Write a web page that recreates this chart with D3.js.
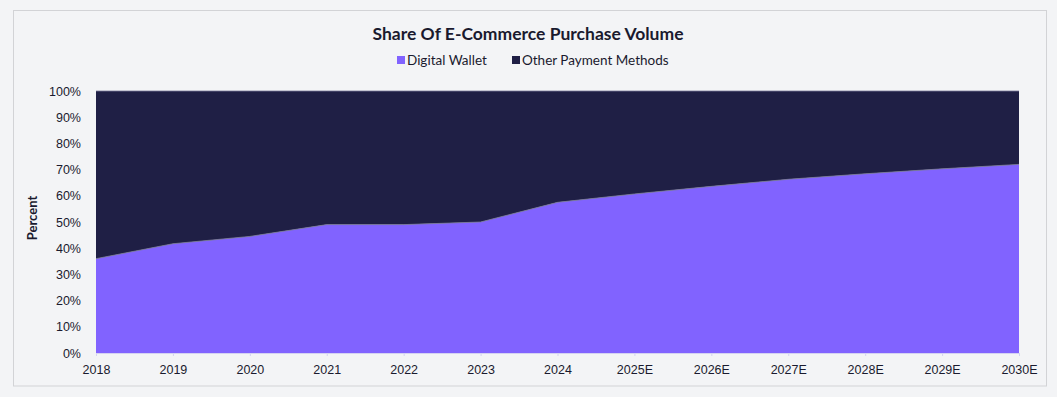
<!DOCTYPE html>
<html lang="en">
<head>
    <meta charset="UTF-8">
    <title>Share Of E-Commerce Purchase Volume</title>
    <script src="https://d3js.org/d3.v7.min.js"></script>
    <style>
        body { margin: 0; background: #f3f4f6; font-family: Lato, "Noto Sans", sans-serif; }
        #chart { width: 1057px; height: 397px; }
    </style>
</head>
<body>
    <div id="chart"></div>
    <script>
        const years = ["2018", "2019", "2020", "2021", "2022", "2023", "2024",
                       "2025E", "2026E", "2027E", "2028E", "2029E", "2030E"];
        const digitalWallet = [36, 41.7, 44.5, 49, 49, 50, 57.5, 60.7, 63.6, 66.3, 68.4, 70.3, 72];
        const otherMethods = [64, 58.3, 55.5, 51, 51, 50, 42.5, 39.3, 36.4, 33.7, 31.6, 29.7, 28];
        const seriesNames = ["Digital Wallet", "Other Payment Methods"];
        const colors = ["#8163ff", "#1f1f45"];

        const W = 1057, H = 397;
        const m = { left: 96, right: 38, top: 91, bottom: 44 };

        const svg = d3.select("#chart").append("svg")
            .attr("width", W)
            .attr("height", H);

        // outer frame
        svg.append("rect")
            .attr("x", 13.5).attr("y", 10.5)
            .attr("width", 1033).attr("height", 375.5)
            .attr("fill", "#f3f4f6")
            .attr("stroke", "#d2d3d6");

        const rows = years.map((y, i) => ({ year: y, dw: digitalWallet[i], other: otherMethods[i] }));
        const stacked = d3.stack().keys(["dw", "other"])(rows);

        const x = d3.scalePoint().domain(years).range([m.left, W - m.right]);
        const y = d3.scaleLinear().domain([0, 100]).range([H - m.bottom, m.top]);

        const area = d3.area()
            .x(d => x(d.data.year))
            .y0(d => y(d[0]))
            .y1(d => y(d[1]));

        svg.selectAll("path.layer")
            .data(stacked)
            .join("path")
            .attr("class", "layer")
            .attr("fill", (d, i) => colors[i])
            .attr("d", area);

        // thin light edge on top of each layer
        const topLine = d3.line().x(d => x(d.data.year)).y(d => y(d[1]));
        svg.selectAll("path.edge")
            .data(stacked)
            .join("path")
            .attr("class", "edge")
            .attr("fill", "none")
            .attr("stroke", "#7a7a9a")
            .attr("stroke-width", 0.8)
            .attr("d", topLine);

        // x axis
        const xAxis = svg.append("g")
            .attr("transform", `translate(0, ${H - m.bottom})`)
            .call(d3.axisBottom(x).tickSize(3).tickPadding(9));
        xAxis.select(".domain").attr("stroke", "#d4d2f2");
        xAxis.selectAll(".tick line").attr("stroke", "#d4d2f2");
        xAxis.selectAll("text")
            .attr("fill", "#1a1a2e")
            .style("font-size", "12.5px");

        // y axis
        const yAxis = svg.append("g")
            .attr("transform", `translate(${m.left}, 0)`)
            .call(d3.axisLeft(y).tickValues(d3.range(0, 101, 10)).tickFormat(d => d + "%").tickSize(0).tickPadding(15));
        yAxis.select(".domain").remove();
        yAxis.selectAll("text")
            .attr("fill", "#1a1a2e")
            .style("font-size", "12.5px");

        // y axis title
        svg.append("text")
            .attr("transform", `translate(37, 218) rotate(-90)`)
            .attr("text-anchor", "middle")
            .attr("fill", "#1a1a2e")
            .style("font-size", "13px")
            .style("font-weight", "bold")
            .text("Percent");

        // title
        svg.append("text")
            .attr("x", 528).attr("y", 40)
            .attr("text-anchor", "middle")
            .attr("fill", "#1a1a2e")
            .style("font-size", "17.5px")
            .style("font-weight", "bold")
            .text("Share Of E-Commerce Purchase Volume");

        // legend
        const legendX = [397, 512];
        const legend = svg.selectAll("g.legend")
            .data(seriesNames)
            .join("g")
            .attr("class", "legend")
            .attr("transform", (d, i) => `translate(${legendX[i]}, 61)`);
        legend.append("rect")
            .attr("x", 0).attr("y", -5)
            .attr("width", 8).attr("height", 8)
            .attr("fill", (d, i) => colors[i]);
        legend.append("text")
            .attr("x", 10).attr("y", 4)
            .attr("fill", "#1a1a2e")
            .style("font-size", "13.5px")
            .text(d => d);
    </script>
</body>
</html>
